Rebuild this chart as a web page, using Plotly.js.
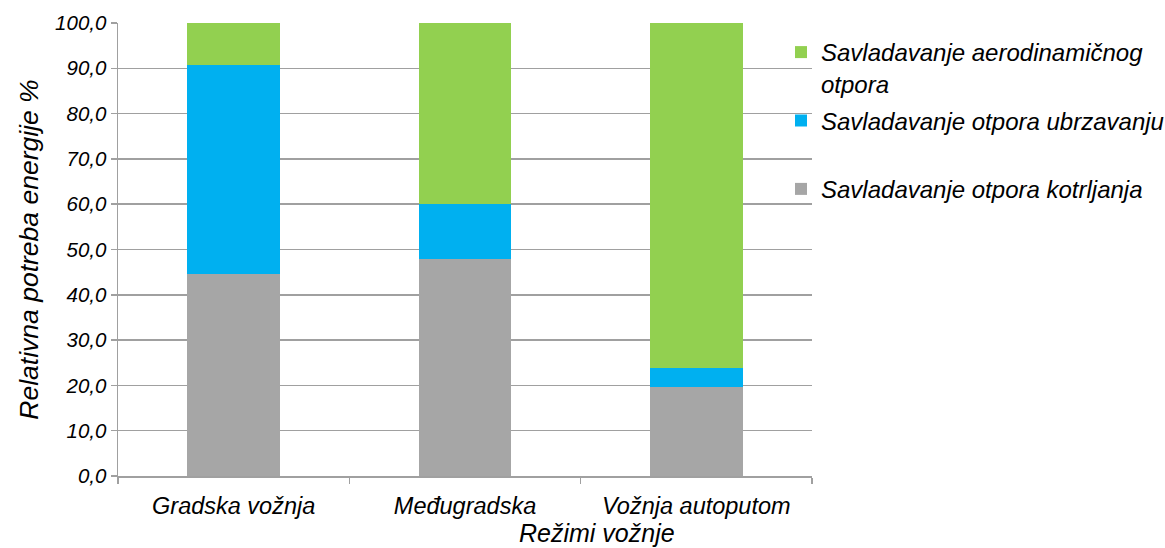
<!DOCTYPE html>
<html>
<head>
<meta charset="utf-8">
<script src="https://cdn.plot.ly/plotly-3.0.1.min.js"></script>
<style>
  html, body { margin: 0; padding: 0; background: #ffffff; }
  #chart { width: 1165px; height: 548px; }
</style>
</head>
<body>
<div id="chart"></div>
<script>
const categories = ["Gradska vožnja", "Međugradska", "Vožnja autoputom"];
const kotrljanje = [44.5, 47.9, 19.6];
const ubrzavanje = [46.2, 12.2, 4.3];
const aerodinamika = [9.3, 39.9, 76.1];
const seriesNames = [
  "Savladavanje otpora kotrljanja",
  "Savladavanje otpora ubrzavanju",
  "Savladavanje aerodinamičnog<br>otpora"
];
const yTitle = "Relativna potreba energije %";
const xTitle = "Režimi vožnje";

const fontFamily = "Liberation Sans, Arial, sans-serif";
const italicFont = (size) => ({ family: fontFamily, size: size, color: "#000000", style: "italic" });

const traces = [
  { type: "bar", name: seriesNames[0] + "<br> ", x: categories, y: kotrljanje, marker: { color: "#a6a6a6" }, legendgroup: "a", legendrank: 3 },
  { type: "bar", name: seriesNames[1] + "<br> ", x: categories, y: ubrzavanje, marker: { color: "#00b0f0" }, legendgroup: "b", legendrank: 2 },
  { type: "bar", name: seriesNames[2], x: categories, y: aerodinamika, marker: { color: "#92d050" }, legendgroup: "c", legendrank: 1 }
];

const layout = {
  width: 1165,
  height: 548,
  paper_bgcolor: "#ffffff",
  plot_bgcolor: "#ffffff",
  separators: ",.",
  barmode: "stack",
  bargap: 0.6,
  margin: { l: 118, r: 353, t: 23, b: 72, pad: 0, autoexpand: false },
  font: italicFont(20),
  xaxis: {
    type: "category",
    showline: true,
    linecolor: "#a0a0a0",
    linewidth: 1.5,
    ticks: "outside",
    tickson: "boundaries",
    ticklen: 6,
    tickcolor: "#a0a0a0",
    tickwidth: 1.5,
    tickfont: italicFont(23.5),
    ticklabelstandoff: 8,
    showgrid: false
  },
  yaxis: {
    range: [0, 100],
    dtick: 10,
    tickformat: ".1f",
    showline: true,
    linecolor: "#a0a0a0",
    linewidth: 1.5,
    ticks: "outside",
    ticklen: 6,
    tickcolor: "#a0a0a0",
    tickwidth: 1.5,
    tickfont: italicFont(20.5),
    showgrid: true,
    gridcolor: "#a0a0a0",
    gridwidth: 1.5,
    zeroline: false,
    title: { text: yTitle, font: italicFont(26.5), standoff: 9 }
  },
  showlegend: true,
  legend: {
    xref: "container",
    yref: "container",
    x: 781 / 1165,
    xanchor: "left",
    y: 1 - 30 / 548,
    yanchor: "top",
    traceorder: "grouped",
    tracegroupgap: 3,
    valign: "top",
    font: italicFont(24),
    bgcolor: "rgba(0,0,0,0)"
  },
  annotations: [
    {
      text: xTitle,
      xref: "paper", yref: "paper",
      x: 0.69, y: -0.126,
      xanchor: "center", yanchor: "middle",
      showarrow: false,
      font: italicFont(25)
    }
  ]
};

Plotly.newPlot("chart", traces, layout, { displayModeBar: false, staticPlot: true });
</script>
</body>
</html>
